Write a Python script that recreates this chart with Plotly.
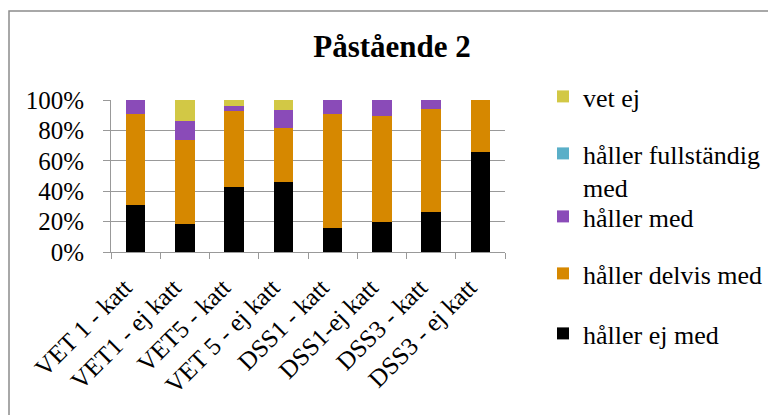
import plotly.graph_objects as go

categories = ["VET 1 - katt", "VET1 - ej katt", "VET5 - katt", "VET 5 - ej katt",
              "DSS1 - katt", "DSS1-ej katt", "DSS3 - katt", "DSS3 - ej katt"]
haller_ej_med = [31, 18.5, 43, 46, 16, 19.5, 26, 66]
haller_delvis_med = [60, 55.5, 50, 35.5, 75, 70, 68, 34]
haller_med = [9, 12.5, 3, 12, 9, 10.5, 6, 0]
haller_fullstandig_med = [0, 0, 0, 0, 0, 0, 0, 0]
vet_ej = [0, 13.5, 4, 6.5, 0, 0, 0, 0]

series = [
    ("håller ej med", haller_ej_med, "#000000", "legend5", 335),
    ("håller delvis med", haller_delvis_med, "#D68800", "legend4", 275),
    ("håller med", haller_med, "#8A4BB8", "legend3", 218),
    ("håller fullständig<br>med", haller_fullstandig_med, "#5AAFC8", "legend2", 155),
    ("vet ej", vet_ej, "#D2C845", "legend", 98),
]

FONT = "Liberation Serif, Times New Roman, serif"
W, H = 768, 415

fig = go.Figure()
for name, vals, color, lg, _ in series:
    fig.add_trace(go.Bar(x=categories, y=vals, name=name, marker=dict(color=color, line=dict(width=0)),
                         legend=lg, showlegend=True))

layout_legends = {}
for name, vals, color, lg, ycenter in series:
    layout_legends[lg] = dict(
        xref="container", yref="container",
        x=543 / W, y=1 - (ycenter - 25) / H, xanchor="left", yanchor="top",
        font=dict(family=FONT, size=26, color="#000000"),
        bgcolor="rgba(0,0,0,0)", borderwidth=0, valign="top",
    )

fig.update_layout(
    width=W, height=H,
    barmode="stack", bargap=0.6,
    paper_bgcolor="white", plot_bgcolor="white",
    margin=dict(l=111, r=W - 505, t=100, b=H - 252),
    title=dict(text="Påstående 2", xref="container", yref="container", x=392 / W, y=1 - 46 / H,
               xanchor="center", yanchor="middle",
               font=dict(family=FONT, size=31, color="#000000", weight="bold")),
    font=dict(family=FONT, size=26, color="#000000"),
    **layout_legends,
)

fig.update_yaxes(range=[0, 100], dtick=20, ticksuffix="%", showgrid=True, gridcolor="#999999", gridwidth=1,
                 showline=True, linecolor="#999999", linewidth=1, ticks="outside", ticklen=7,
                 tickcolor="#999999", tickfont=dict(family=FONT, size=25, color="#000000"),
                 ticklabelstandoff=14, zeroline=False, automargin=False)
fig.update_xaxes(showline=True, linecolor="#999999", linewidth=1, ticks="outside", ticklen=6,
                 tickcolor="#999999", tickson="boundaries", tickangle=-45,
                 tickfont=dict(family=FONT, size=25, color="#000000"), showgrid=False,
                 ticklabelstandoff=10, ticklabelshift=-11, automargin=False)

# chart-area border
fig.add_shape(type="rect", xref="paper", yref="paper",
              x0=(9 - 111) / 394, x1=(775 - 111) / 394, y0=(252 - 420) / 152, y1=(252 - 11) / 152,
              line=dict(color="#8c8c8c", width=1.5), fillcolor="rgba(0,0,0,0)", layer="below")

fig.write_html("out.html", config={"displayModeBar": False},
               post_script="document.body.style.margin='0';")
